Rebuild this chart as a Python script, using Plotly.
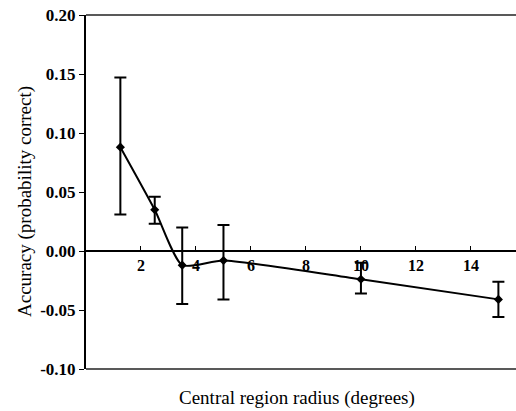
import plotly.graph_objects as go

radius = [1.25, 2.5, 3.5, 5, 10, 15]
accuracy = [0.088, 0.035, -0.012, -0.008, -0.024, -0.041]
err_plus = [0.059, 0.011, 0.032, 0.030, 0.014, 0.015]
err_minus = [0.057, 0.012, 0.033, 0.033, 0.012, 0.015]

y_ticks = [-0.10, -0.05, 0.00, 0.05, 0.10, 0.15, 0.20]
y_ticktext = ["-0.10", "-0.05", "0.00", "0.05", "0.10", "0.15", "0.20"]
x_ticks = [2, 4, 6, 8, 10, 12, 14]

serif = "Liberation Serif, Times New Roman, serif"

fig = go.Figure()
fig.add_trace(go.Scatter(
    x=radius, y=accuracy,
    mode="lines+markers",
    line=dict(color="black", width=2, shape="spline", smoothing=0.6),
    marker=dict(color="black", size=7, symbol="diamond"),
    error_y=dict(type="data", symmetric=False, array=err_plus, arrayminus=err_minus,
                 color="black", thickness=2, width=6),
    showlegend=False,
    hoverinfo="skip",
))

fig.update_layout(
    width=516, height=411,
    margin=dict(l=86, r=0, t=15, b=42, autoexpand=False),
    paper_bgcolor="white", plot_bgcolor="white",
    font=dict(family=serif, color="black", size=13),
    xaxis=dict(range=[0, 15.64], tickvals=x_ticks, ticks="inside", ticklen=4,
               tickcolor="black", showline=True, linecolor="black", linewidth=2,
               anchor="free", position=1/3, showgrid=False, zeroline=False,
               ticklabeloverflow="allow", automargin=False,
               tickfont=dict(family=serif, size=16, color="black", weight="bold")),
    yaxis=dict(range=[-0.10, 0.20], tickvals=y_ticks, ticktext=y_ticktext,
               ticks="outside", ticklen=5, tickcolor="black", showline=True,
               linecolor="black", linewidth=2, showgrid=False, zeroline=False,
               ticklabeloverflow="allow", automargin=False,
               tickfont=dict(family=serif, size=17, color="black", weight="bold")),
    shapes=[
        dict(type="line", xref="paper", yref="paper", x0=0, x1=1, y0=1, y1=1,
             line=dict(color="#222", width=1.3)),
        dict(type="line", xref="paper", yref="paper", x0=0, x1=1, y0=0, y1=0,
             line=dict(color="#222", width=1.3)),
    ],
    annotations=[
        dict(text="Central region radius (degrees)", xref="paper", yref="paper",
             x=0.5, y=0, yshift=-29, xshift=-4, yanchor="middle", showarrow=False,
             font=dict(family=serif, size=19, color="black")),
        dict(text="Accuracy (probability correct)", xref="paper", yref="paper",
             x=0, y=0.5, xshift=-61, yshift=-10, textangle=-90, showarrow=False,
             xanchor="center", yanchor="middle",
             font=dict(family=serif, size=19, color="black")),
    ],
)

fig.write_html("out.html", config={"displayModeBar": False},
               post_script="document.body.style.margin='0';document.body.style.overflow='hidden';")
